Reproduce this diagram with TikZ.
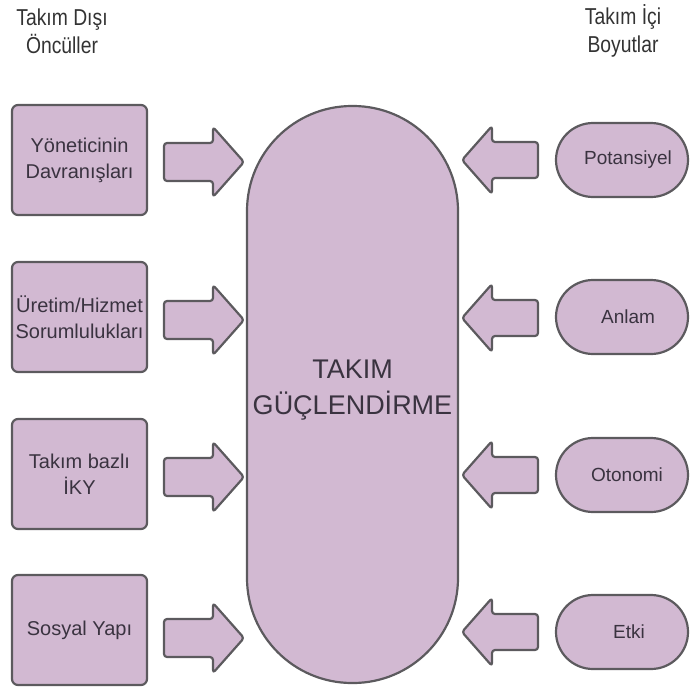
\documentclass[tikz,border=0pt]{standalone}
\usepackage{fontspec}
\setmainfont{Liberation Sans}
\newfontfamily\headfont[FakeStretch=0.84]{Liberation Sans}
\usetikzlibrary{shapes.misc}
\definecolor{mauve}{HTML}{D2B9D2}
\definecolor{edge}{HTML}{5C5A5E}
\definecolor{ink}{HTML}{3A3340}
\begin{document}
\begin{tikzpicture}[x=1pt,y=-1pt,
  shapefill/.style={fill=mauve, draw=edge, line width=2.2pt},
  lbl/.style={font=\fontsize{20}{26}\selectfont, text=ink, align=center},
  box/.style={shapefill, rounded corners=6pt, minimum width=135pt, minimum height=110pt, inner sep=0pt, lbl},
  pill/.style={shapefill, rounded rectangle, minimum width=132pt, minimum height=74pt, inner sep=0pt},
  pilltext/.style={lbl, font=\fontsize{19}{25}\selectfont},
  head/.style={font=\headfont\fontsize{23}{28}\selectfont, text=black!80, align=center},
  blockarrow/.style={shapefill, rounded corners=3pt, line join=round}
]
\useasboundingbox (0,0) rectangle (690,688);

% headers
\node[head] (hl) at (62,31) {Takım Dışı\\Öncüller};
\node[head] (hr) at (623,31) {Takım İçi\\Boyutlar};

% central pill
\node[shapefill, rounded corners=105pt, minimum width=211pt, minimum height=577pt, inner sep=0pt] (core) at (352.5,394.5) {};
\node[font=\fontsize{27}{36}\selectfont, text=ink, align=center] (coretext) at (352.5,390) {TAKIM\\GÜÇLENDİRME};

% left boxes
\node[box] (b1) at (79.5,160) {Yöneticinin\\Davranışları};
\node[box] (b2) at (79.5,317) {Üretim/Hizmet\\Sorumlulukları};
\node[box] (b3) at (79.5,474) {Takım bazlı\\İKY};
\node[box] (b4) at (79.5,630) {Sosyal Yapı};

% right pills
\node[pill] (p1) at (622,160) {};
\node[pill] (p2) at (622,317) {};
\node[pill] (p3) at (622,475) {};
\node[pill] (p4) at (622,632) {};
\node[pilltext] (t1) at (628,160) {Potansiyel};
\node[pilltext] (t2) at (628,317) {Anlam};
\node[pilltext] (t3) at (627,475) {Otonomi};
\node[pilltext] (t4) at (629,632) {Etki};

% left block arrows (pointing right)
\foreach \yy in {162,320,477,638}{
  \draw[blockarrow] (164,\yy-19) -- (213,\yy-19) -- (213,\yy-35) -- (244,\yy) -- (213,\yy+35) -- (213,\yy+19) -- (164,\yy+19) -- cycle;
}
% right block arrows (pointing left)
\foreach \yy in {160,318,475,632}{
  \draw[blockarrow] (538,\yy-18) -- (492,\yy-18) -- (492,\yy-34) -- (462,\yy) -- (492,\yy+34) -- (492,\yy+18) -- (538,\yy+18) -- cycle;
}
\end{tikzpicture}
\end{document}
